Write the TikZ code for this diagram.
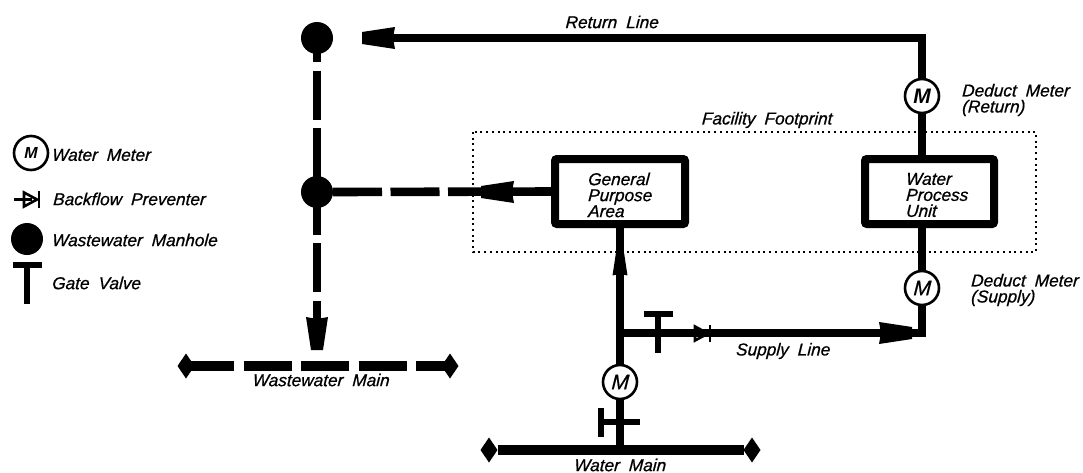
\documentclass[tikz,border=0pt]{standalone}
\usepackage{fontspec}
\setmainfont[WordSpace=1.9,ItalicFeatures={FakeBold=0.7,FakeSlant=0.06}]{Liberation Sans}
\usetikzlibrary{positioning,shapes.geometric}
\tikzset{
  pipe/.style={line width=4.3pt},
  sewer/.style={line width=4.3pt,dash pattern=on 24.5pt off 4.25pt},
  mainline/.style={line width=5.4pt},
  manhole/.style={circle,fill=black,minimum size=16pt,inner sep=0pt,outer sep=0pt},
  meter/.style={circle,draw,fill=white,line width=1.3pt,minimum size=17pt,inner sep=0pt,outer sep=0pt,font=\fontsize{10.5}{10}\selectfont\itshape},
  boldmeter/.style={meter,font=\fontsize{10.5}{10}\selectfont\bfseries\itshape},
  unitbox/.style={draw,line width=4pt,rounded corners=1pt,minimum width=65pt,minimum height=32.5pt,inner sep=0pt,outer sep=0pt},
  mainend/.style={diamond,fill=black,minimum width=8.5pt,minimum height=12.5pt,inner sep=0pt,outer sep=0pt},
  tag/.style={inner sep=0pt,outer sep=0pt,font=\fontsize{8.6}{8}\selectfont\itshape},
  tagblock/.style={tag,align=left},
  flowhead/.pic={\fill (0,-6)--(-33,-11)--(-31,0)--(-33,11)--(0,6)--cycle;},
  gatevalve/.pic={\draw[line width=2.6pt] (-14.5,0)--(14.5,0);
    \draw[line width=2.6pt] (0,0)--(0,39);},
  backflow/.pic={\draw[line width=1.3pt] (-15,-7)--(-2,0)--(-15,7)--cycle;
    \draw[line width=1.3pt] (0,-8.5)--(0,8.5);}
}
\begin{document}
\begin{tikzpicture}[x=0.5pt,y=-0.5pt]
  \useasboundingbox (0,0) rectangle (1083,472);
  % footprint
  \draw[line width=1pt,dash pattern=on 1pt off 1.85pt] (473,132) rectangle (1036,252);
  % fixed parts
  \node[manhole] (mhTop) at (317,38) {};
  \node[manhole] (mhMid) at (317,192) {};
  \node[unitbox] (gpa) at (620,191.5) {};
  \node[unitbox,minimum width=64.5pt] (wpu) at (929.5,191.5) {};
  \node[boldmeter] (mReturn) at (922,96) {M};
  \node[meter] (mSupply) at (922,288) {M};
  \node[meter] (mMain) at (620,382) {M};
  \node[mainend] (wwLeft) at (186,366) {};
  \node[mainend] (wwRight) at (450,366) {};
  \node[mainend] (wmLeft) at (489,450) {};
  \node[mainend] (wmRight) at (752,450) {};
  \coordinate (cornerTop) at (922,38);
  \coordinate (returnEnd) at (375,38);
  \coordinate (cornerSupply) at (922,333);
  \coordinate (tee) at (620,333);
  \coordinate (tap) at (620,450);
  \coordinate (sewerEnd) at (317,330);
  % water lines
  \draw[pipe] (mReturn) -- (mReturn |- wpu.north);
  \draw[pipe] (mReturn) -- (cornerTop) -- (returnEnd);
  \draw[pipe] (mSupply) -- (mSupply |- wpu.south);
  \draw[pipe] (tee) -- (cornerSupply) -- (mSupply);
  \draw[pipe] (tap) -- (mMain);
  \draw[pipe] (mMain) -- (gpa.south);
  \draw[mainline] (wmLeft) -- (wmRight);
  % sewer lines
  \draw[sewer,dash phase=12.5pt] (mhTop.center) -- (sewerEnd);
  \draw[sewer] (mhMid.east) -- (gpa.west);
  \draw[mainline,dash pattern=on 24pt off 4.75pt] (wwLeft.center) -- (wwRight.center);
  % arrow heads
  \pic[rotate=180] at (362,38) {flowhead};
  \pic[rotate=180] at (481,192) {flowhead};
  \pic[rotate=-90] at (317,350) {flowhead};
  \pic at (912,333) {flowhead};
  \pic[rotate=90,scale=0.68] at (620,253) {flowhead};
  % valves
  \pic at (658,314) {gatevalve};
  \pic[rotate=90] at (601,422) {gatevalve};
  \pic at (710,333.5) {backflow};
  % labels
  \node[tag] (returnLabel) at (612,22) {Return Line};
  \node[tag] (footprintLabel) at (767,120) {Facility Footprint};
  \node[tag] (supplyLabel) at (783,351) {Supply Line};
  \node[tag] (waterMainLabel) at (620,465) {Water Main};
  \node[tag] (wasteMainLabel) at (321,380) {Wastewater Main};
  \node[tagblock] (gpaLabel) at (620,195) {General\\Purpose\\Area};
  \node[tagblock] (wpuLabel) at (937,195) {Water\\Process\\Unit};
  \node[tagblock,anchor=west] (returnMeterLabel) at (962,100) {Deduct Meter\\(Return)};
  \node[tagblock,anchor=west] (supplyMeterLabel) at (971,290) {Deduct Meter\\(Supply)};
  % legend
  \node[boldmeter,font=\fontsize{8}{8}\selectfont\bfseries\itshape] (legMeter) at (31,153) {M};
  \pic at (39,199.5) {backflow};
  \draw[line width=1.3pt] (14,199.5) -- (32,199.5);
  \node[manhole] (legManhole) at (27,239) {};
  \pic at (27,265) {gatevalve};
  \node[tag,anchor=west] (legMeterText) at (52,155) {Water Meter};
  \node[tag,anchor=west] (legBackflowText) at (53,199) {Backflow Preventer};
  \node[tag,anchor=west] (legManholeText) at (52,240) {Wastewater Manhole};
  \node[tag,anchor=west] (legGateText) at (52,283) {Gate Valve};
\end{tikzpicture}
\end{document}
